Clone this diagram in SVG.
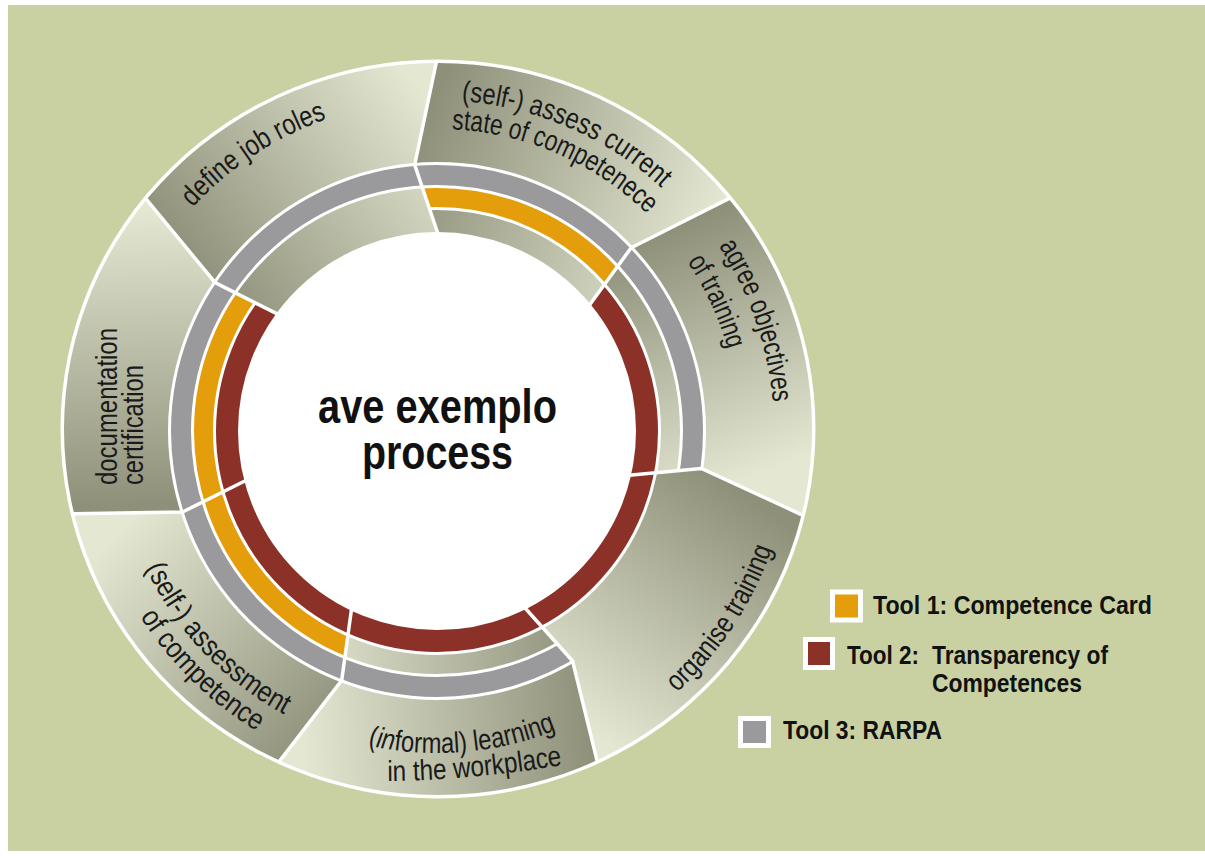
<svg xmlns="http://www.w3.org/2000/svg" xmlns:xlink="http://www.w3.org/1999/xlink" width="1205" height="856" viewBox="0 0 1205 856">
<style>
.red{fill:none;stroke:#8B3127;stroke-width:22}
.org{fill:none;stroke:#E59E0B;stroke-width:19}
.gry{fill:none;stroke:#9A9A9C;stroke-width:20}
.lbl{font-family:"Liberation Sans",Arial,sans-serif;font-size:29px;fill:#1A1A1A}
.ctr{font-family:"Liberation Sans",Arial,sans-serif;font-size:48px;font-weight:bold;fill:#111}
.leg{font-family:"Liberation Sans",Arial,sans-serif;font-size:25px;font-weight:bold;fill:#111}
.sep{fill:none;stroke:#fff;stroke-width:3.5;stroke-linejoin:round}
.sw{stroke:#fff;stroke-width:5}
</style>
<defs>
<linearGradient id="gA" gradientUnits="userSpaceOnUse" x1="190" y1="270" x2="420" y2="90"><stop offset="0" stop-color="#8E907A"/><stop offset="1" stop-color="#E4E7D1"/></linearGradient>
<linearGradient id="gB" gradientUnits="userSpaceOnUse" x1="430" y1="110" x2="715" y2="225"><stop offset="0" stop-color="#8E907A"/><stop offset="1" stop-color="#E4E7D1"/></linearGradient>
<linearGradient id="gC" gradientUnits="userSpaceOnUse" x1="670" y1="230" x2="770" y2="470"><stop offset="0" stop-color="#8E907A"/><stop offset="1" stop-color="#E4E7D1"/></linearGradient>
<linearGradient id="gD" gradientUnits="userSpaceOnUse" x1="745" y1="495" x2="585" y2="730"><stop offset="0" stop-color="#8E907A"/><stop offset="1" stop-color="#E4E7D1"/></linearGradient>
<linearGradient id="gE" gradientUnits="userSpaceOnUse" x1="300" y1="720" x2="590" y2="700"><stop offset="0" stop-color="#E4E7D1"/><stop offset="1" stop-color="#8E907A"/></linearGradient>
<linearGradient id="gF" gradientUnits="userSpaceOnUse" x1="110" y1="540" x2="320" y2="745"><stop offset="0" stop-color="#E4E7D1"/><stop offset="1" stop-color="#8E907A"/></linearGradient>
<linearGradient id="gG" gradientUnits="userSpaceOnUse" x1="130" y1="210" x2="140" y2="505"><stop offset="0" stop-color="#E4E7D1"/><stop offset="1" stop-color="#8E907A"/></linearGradient>
<clipPath id="cEll"><ellipse cx="438" cy="429" rx="376" ry="368"/></clipPath>
<clipPath id="cOuter"><path clip-rule="evenodd" d="M64,429 A374,366 0 1 1 812,429 A374,366 0 1 1 64,429 Z M168,431 A269,269 0 1 0 706,431 A269,269 0 1 0 168,431 Z"/></clipPath>
<clipPath id="cOuterD"><path clip-rule="evenodd" d="M64,429 A374,366 0 1 1 812,429 A374,366 0 1 1 64,429 Z M213,431 A224,224 0 1 0 661,431 A224,224 0 1 0 213,431 Z"/></clipPath>
<clipPath id="wA"><polygon points="437,431 278.2,314.4 215.1,282.6 146.2,199.1 91.1,132.2 454.9,-25.8 437,59 414.7,164.9 438,234"/></clipPath>
<clipPath id="wB"><polygon points="437,431 438,234 414.7,164.9 437,59 454.9,-25.8 805.2,160.1 727.8,199.1 631.2,247.7 589,305.7"/></clipPath>
<clipPath id="wC"><polygon points="437,431 589,305.7 631.2,247.7 727.8,199.1 805.2,160.1 878.3,550.1 799.7,513.8 701.4,468.4 629,475.3"/></clipPath>
<clipPath id="wD"><polygon points="437,431 629,475.3 701.4,468.4 799.7,513.8 878.3,550.1 619.1,850.3 598.4,766.2 572.6,661 524.6,607.5"/></clipPath>
<clipPath id="wE"><polygon points="437,431 524.6,607.5 572.6,661 598.4,766.2 619.1,850.3 222.7,834.8 275.6,766.2 341.7,680.4 351.6,608.5"/></clipPath>
<clipPath id="wF"><polygon points="437,431 351.6,608.5 341.7,680.4 275.6,766.2 222.7,834.8 -12.3,515.2 74.3,513.8 182.6,512 246.3,480.3"/></clipPath>
<clipPath id="wG"><polygon points="437,431 246.3,480.3 182.6,512 74.3,513.8 -12.3,515.2 91.1,132.2 146.2,199.1 215.1,282.6 278.2,314.4"/></clipPath>
<path id="pA" d="M140.78,283.31 A331,331 0 0 1 416.79,100.62"/>
<path id="pB1" d="M371.01,106.65 A332,332 0 0 1 719.22,258.05"/>
<path id="pB2" d="M376.79,135.06 A301,301 0 0 1 694.5,273.2"/>
<path id="pC1" d="M657.65,176.28 A337,337 0 0 1 767.92,494.73"/>
<path id="pC2" d="M610.65,183.92 A302,302 0 0 1 737.8,457.85"/>
<path id="pD" d="M595.95,748.42 A355,355 0 0 0 791.38,452.05"/>
<path id="pE1" d="M299.14,722 A322,322 0 0 0 620.08,695.89"/>
<path id="pE2" d="M370,781 Q470,782 580,762"/>
<path id="pF1" d="M123.76,505.62 A322,322 0 0 0 345.01,739.58"/>
<path id="pF2" d="M99.73,524.53 A350,350 0 0 0 349.37,769.85"/>
</defs>

<rect x="0" y="0" width="1205" height="856" fill="#fff"/>
<rect x="8" y="5" width="1197" height="846" fill="#C9D1A3"/>
<ellipse cx="438" cy="429" rx="377.5" ry="369.5" fill="#fff"/>

<g id="seg-define-job-roles">
<polygon points="437,431 278.2,314.4 215.1,282.6 146.2,199.1 91.1,132.2 454.9,-25.8 437,59 414.7,164.9 438,234" fill="url(#gA)" clip-path="url(#cOuter)"/>
<g clip-path="url(#wA)">
<circle cx="437" cy="431" r="256" class="gry"/>
<circle cx="437" cy="431" r="221" fill="none" stroke="url(#gA)" stroke-width="44"/>
</g>
<text class="lbl"><textPath xlink:href="#pA" startOffset="50%" text-anchor="middle" textLength="162" lengthAdjust="spacingAndGlyphs">define job roles</textPath></text>
</g>

<g id="seg-assess-current">
<polygon points="437,431 438,234 414.7,164.9 437,59 454.9,-25.8 805.2,160.1 727.8,199.1 631.2,247.7 589,305.7" fill="url(#gB)" clip-path="url(#cOuter)"/>
<g clip-path="url(#wB)">
<circle cx="437" cy="431" r="256" class="gry"/>
<circle cx="437" cy="431" r="233.5" class="org"/>
<circle cx="437" cy="431" r="210" fill="none" stroke="url(#gB)" stroke-width="22"/>
</g>
<text class="lbl"><textPath xlink:href="#pB1" startOffset="50%" text-anchor="middle" textLength="222" lengthAdjust="spacingAndGlyphs">(self-) assess current</textPath></text>
<text class="lbl"><textPath xlink:href="#pB2" startOffset="50%" text-anchor="middle" textLength="218" lengthAdjust="spacingAndGlyphs">state of competenece</textPath></text>
</g>

<g id="seg-agree-objectives">
<polygon points="437,431 589,305.7 631.2,247.7 727.8,199.1 805.2,160.1 878.3,550.1 799.7,513.8 701.4,468.4 629,475.3" fill="url(#gC)" clip-path="url(#cOuter)"/>
<g clip-path="url(#wC)">
<circle cx="437" cy="431" r="256" class="gry"/>
<circle cx="437" cy="431" r="233.5" fill="none" stroke="url(#gC)" stroke-width="19"/>
<circle cx="437" cy="431" r="210" class="red"/>
</g>
<text class="lbl"><textPath xlink:href="#pC1" startOffset="50%" text-anchor="middle" textLength="167" lengthAdjust="spacingAndGlyphs">agree objectives</textPath></text>
<text class="lbl"><textPath xlink:href="#pC2" startOffset="50%" text-anchor="middle" textLength="97" lengthAdjust="spacingAndGlyphs">of training</textPath></text>
</g>

<g id="seg-organise-training">
<polygon points="437,431 629,475.3 701.4,468.4 799.7,513.8 878.3,550.1 619.1,850.3 598.4,766.2 572.6,661 524.6,607.5" fill="url(#gD)" clip-path="url(#cOuterD)"/>
<g clip-path="url(#wD)">
<circle cx="437" cy="431" r="210" class="red"/>
</g>
<text class="lbl"><textPath xlink:href="#pD" startOffset="50%" text-anchor="middle" textLength="174" lengthAdjust="spacingAndGlyphs">organise training</textPath></text>
</g>

<g id="seg-informal-learning">
<polygon points="437,431 524.6,607.5 572.6,661 598.4,766.2 619.1,850.3 222.7,834.8 275.6,766.2 341.7,680.4 351.6,608.5" fill="url(#gE)" clip-path="url(#cOuter)"/>
<g clip-path="url(#wE)">
<circle cx="437" cy="431" r="256" class="gry"/>
<circle cx="437" cy="431" r="233.5" fill="none" stroke="url(#gE)" stroke-width="19"/>
<circle cx="437" cy="431" r="210" class="red"/>
</g>
<text class="lbl"><textPath xlink:href="#pE1" startOffset="50%" text-anchor="middle" textLength="192" lengthAdjust="spacingAndGlyphs">(<tspan font-style="italic">in</tspan>formal) learning</textPath></text>
<text class="lbl"><textPath xlink:href="#pE2" startOffset="50%" text-anchor="middle" textLength="176" lengthAdjust="spacingAndGlyphs">in the workplace</textPath></text>
</g>

<g id="seg-assessment-competence">
<polygon points="437,431 351.6,608.5 341.7,680.4 275.6,766.2 222.7,834.8 -12.3,515.2 74.3,513.8 182.6,512 246.3,480.3" fill="url(#gF)" clip-path="url(#cOuter)"/>
<g clip-path="url(#wF)">
<circle cx="437" cy="431" r="256" class="gry"/>
<circle cx="437" cy="431" r="233.5" class="org"/>
<circle cx="437" cy="431" r="210" class="red"/>
</g>
<text class="lbl"><textPath xlink:href="#pF1" startOffset="50%" text-anchor="middle" textLength="205" lengthAdjust="spacingAndGlyphs">(self-) assessment</textPath></text>
<text class="lbl"><textPath xlink:href="#pF2" startOffset="50%" text-anchor="middle" textLength="165" lengthAdjust="spacingAndGlyphs">of competence</textPath></text>
</g>

<g id="seg-documentation">
<polygon points="437,431 246.3,480.3 182.6,512 74.3,513.8 -12.3,515.2 91.1,132.2 146.2,199.1 215.1,282.6 278.2,314.4" fill="url(#gG)" clip-path="url(#cOuter)"/>
<g clip-path="url(#wG)">
<circle cx="437" cy="431" r="256" class="gry"/>
<circle cx="437" cy="431" r="233.5" class="org"/>
<circle cx="437" cy="431" r="210" class="red"/>
</g>
<text class="lbl" transform="translate(117,485) rotate(-90)" textLength="157" lengthAdjust="spacingAndGlyphs">documentation</text>
<text class="lbl" transform="translate(143,485) rotate(-90)" textLength="120" lengthAdjust="spacingAndGlyphs">certification</text>
</g>

<g id="separators" clip-path="url(#cEll)">
<polyline class="sep" points="438,234 414.7,164.9 437,59 454.9,-25.8"/>
<polyline class="sep" points="589,305.7 631.2,247.7 727.8,199.1 805.2,160.1"/>
<polyline class="sep" points="629,475.3 701.4,468.4 799.7,513.8 878.3,550.1"/>
<polyline class="sep" points="524.6,607.5 572.6,661 598.4,766.2 619.1,850.3"/>
<polyline class="sep" points="351.6,608.5 341.7,680.4 275.6,766.2 222.7,834.8"/>
<polyline class="sep" points="246.3,480.3 182.6,512 74.3,513.8 -12.3,515.2"/>
<polyline class="sep" points="278.2,314.4 215.1,282.6 146.2,199.1 91.1,132.2"/>
</g>

<g id="center">
<text class="ctr" x="437.5" y="423" text-anchor="middle" textLength="239" lengthAdjust="spacingAndGlyphs">ave exemplo</text>
<text class="ctr" x="437.5" y="469" text-anchor="middle" textLength="151" lengthAdjust="spacingAndGlyphs">process</text>
</g>

<g id="legend-tool1">
<rect x="832.5" y="592" width="28" height="28" fill="#E59E0B" class="sw"/>
<text class="leg" x="873" y="614" textLength="279" lengthAdjust="spacingAndGlyphs">Tool 1: Competence Card</text>
</g>
<g id="legend-tool2">
<rect x="805.5" y="639.5" width="27" height="28" fill="#8B3127" class="sw"/>
<text class="leg" x="847" y="664" textLength="72" lengthAdjust="spacingAndGlyphs">Tool 2:</text>
<text class="leg" x="932" y="664" textLength="176" lengthAdjust="spacingAndGlyphs">Transparency of</text>
<text class="leg" x="932" y="692" textLength="150" lengthAdjust="spacingAndGlyphs">Competences</text>
</g>
<g id="legend-tool3">
<rect x="740.5" y="718.5" width="28" height="27" fill="#9A9A9C" class="sw"/>
<text class="leg" x="783" y="739" textLength="159" lengthAdjust="spacingAndGlyphs">Tool 3: RARPA</text>
</g>
</svg>
